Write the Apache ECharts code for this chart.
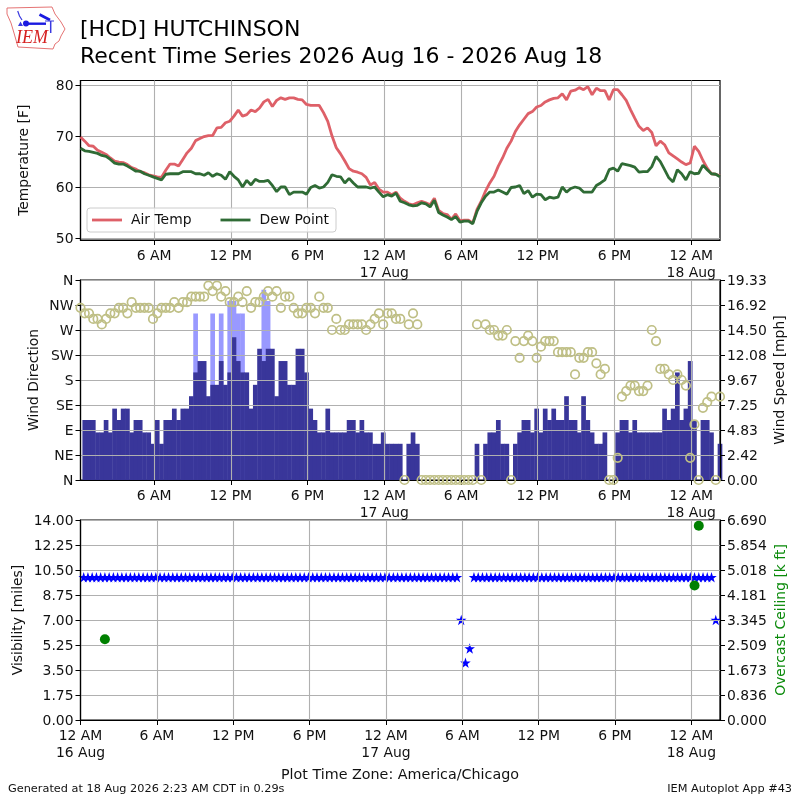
<!DOCTYPE html>
<html>
<head>
<meta charset="utf-8">
<style>html,body{margin:0;padding:0;background:#fff}#c{width:800px;height:800px}</style>
<script src="https://cdn.jsdelivr.net/npm/echarts@6/dist/echarts.min.js"></script>
</head>
<body>
<div id="c"></div>
<script>
// Time axis is in hours after midnight on 16 Aug; one observation every 20 minutes from 00:15
const startHour = 0.25;
const stepHours = 1 / 3;

const airTemp = [69.8,69,68.1,68,67.2,66.8,66.4,65.7,65.1,64.9,64.8,64.4,63.8,63.5,63,62.8,62.4,62.2,62,61.9,
63.3,64.5,64.5,64.1,65.4,66.7,67.6,69.1,69.5,69.9,70.1,70.1,71.6,71.7,72.6,72.9,73.9,75.1,73.9,74.2,
75.1,74.8,75.5,76.7,77.2,75.8,77,77.5,77.2,77.5,77.5,77.2,77.1,76.2,76,76,76,74.6,72.9,70,
67.7,66.5,65.1,63.6,63.1,62.9,62.6,61.9,60.4,60.9,59.6,59,59,58.5,59,57.8,57.2,56.7,56.5,56.9,
57.2,56.9,56.5,57.8,55.4,54.8,54.6,53.7,54.7,53.4,53.5,53.5,52.9,55.6,57.2,59.2,60.8,62.1,64.1,65.7,
67.6,69,70.9,72.2,73.3,74.4,74.8,75.7,76,76.7,77.1,77.4,77.5,78.3,77.1,78.8,79,79.5,79.1,79.7,
78.1,79.4,78.9,78.9,77.1,79.1,79.1,78.1,77,75.2,73.5,71.9,71.1,71.6,70.7,68.1,69,68.3,66.7,66.1,
65.5,64.9,64.4,64.7,68,67,65.2,63.7,62.6,62.5,62.2];

const dewPoint = [67.6,67.1,67,66.8,66.6,66.2,66,65.4,64.7,64.5,64.5,64.1,63.6,63.1,63.1,62.6,62.3,62,61.7,61.4,
62.5,62.6,62.6,62.6,63,63,63,62.6,62.6,62.3,62.8,62.1,62.6,62.3,61.5,63,62.1,61.4,60,61.3,
60.4,61.5,61.1,61.1,61.3,60.3,59.1,60,60,58.5,59,59,59,58.6,59.9,60.3,59.8,60,60.9,62.4,
62.1,62,60.8,61.7,60.8,60,60,60,59.8,60,59,58.1,58.5,58.2,58.8,57.2,56.9,56.5,56.3,56.4,
56.9,56.7,56.1,57.4,55,54.5,54.1,53.6,54.2,53.1,53.3,53.3,52.8,55.2,56.9,58.2,59,59,59.4,59,
58.6,59.9,60,60.3,58.7,59.3,58,58.6,58.5,57.5,58,57.8,58,60,59,59.7,60,59.8,59,59,
59,60.3,60.8,61.4,63.4,63.7,63.1,64.6,64.4,64.2,63.9,62.9,63,63,64,66,65,63.4,61.8,61,
63.4,62.6,61.4,63,62.6,62.7,64.3,63.4,62.6,62.5,62];

const windSpeed = [null,5.8,5.8,5.8,4.6,4.6,5.8,4.6,6.9,5.8,6.9,6.9,4.6,5.8,5.8,4.6,4.6,3.5,5.8,3.5,
5.8,5.8,6.9,5.8,6.9,6.9,8.1,10.4,11.5,11.5,8.1,9.2,9.2,11.5,9.2,10.4,13.8,11.5,10.4,10.4,
6.9,9.2,12.7,11.5,12.7,12.7,8.1,11.5,11.5,9.2,9.2,12.7,12.7,10.4,6.9,5.8,4.6,4.6,6.9,4.6,
4.6,4.6,4.6,5.8,5.8,4.6,5.8,4.6,4.6,3.5,3.5,4.6,3.5,3.5,3.5,3.5,0,3.5,4.6,3.5,
0,0,0,0,0,0,0,0,0,0,0,0,0,3.5,0,3.5,4.6,4.6,5.8,3.5,
3.5,0,3.5,4.6,5.8,5.8,4.6,6.9,4.6,6.9,5.8,6.9,5.8,5.8,8.1,5.8,5.8,4.6,8.1,5.8,
4.6,3.5,3.5,4.6,0,0,4.6,5.8,5.8,4.6,5.8,4.6,4.6,4.6,4.6,4.6,4.6,6.9,5.8,6.9,
10.4,5.8,6.9,11.5,5.8,0,5.8,5.8,4.6,0,3.5];

// Gusts are only reported at a few observations: [observation number, mph]
const gustObs = [27,31,33,35,36,37,38,43,44];
const gustMph = [16.1,16.1,16.1,17.3,17.3,16.1,16.1,18.4,17.3];

const windDir = [310,300,300,290,290,280,290,300,300,310,310,300,320,310,310,310,310,290,300,310,
310,310,320,310,320,320,330,330,330,330,350,340,350,330,340,320,320,330,320,340,
310,320,320,330,340,330,340,310,330,330,310,300,300,310,310,300,330,310,310,270,
290,270,270,280,280,280,280,270,280,290,300,280,300,300,290,290,0,280,300,280,
0,0,0,0,0,0,0,0,0,0,0,0,0,280,0,280,270,270,260,260,
270,0,250,220,250,260,250,220,240,250,250,250,230,230,230,230,190,220,220,230,
230,210,190,200,0,0,40,150,160,170,170,160,160,170,270,250,200,200,190,180,
190,180,170,40,100,0,130,140,150,0,150];

const visibility = [10,10,10,10,10,10,10,10,10,10,10,10,10,10,10,10,10,10,10,10,
10,10,10,10,10,10,10,10,10,10,10,10,10,10,10,10,10,10,10,10,
10,10,10,10,10,10,10,10,10,10,10,10,10,10,10,10,10,10,10,10,
10,10,10,10,10,10,10,10,10,10,10,10,10,10,10,10,10,10,10,10,
10,10,10,10,10,10,10,10,10,7,4,5,10,10,10,10,10,10,10,10,
10,10,10,10,10,10,10,10,10,10,10,10,10,10,10,10,10,10,10,10,
10,10,10,10,10,10,10,10,10,10,10,10,10,10,10,10,10,10,10,10,
10,10,10,10,10,10,10,10,10,7];

const ceilingObs = [5,144,145];
const ceilingKft = [2.7,4.5,6.5];

const tickHours = [0,6,12,18,24,30,36,42,48];
const tickLabels = ['12 AM\n16 Aug','6 AM','12 PM','6 PM','12 AM\n17 Aug','6 AM','12 PM','6 PM','12 AM\n18 Aug'];
const tempTicks = [50,60,70,80];
const compassTicks = [0,45,90,135,180,225,270,315,360];
const compassLabels = ['N','NE','E','SE','S','SW','W','NW','N'];

const FONT = 'DejaVu Sans';
const GRID = '#b0b0b0';
const obsTime = j => startHour + j * stepHours;
const withTimes = arr => arr.map((v, j) => [obsTime(j), v]);

const axisMax = 50.25;
const topMin = 0.25;
const bottomMin = 0;

function xAxis(gridIndex, min) {
  const vals = tickHours.filter(t => t >= min && t <= axisMax);
  return {
    type: 'value', gridIndex, min, max: axisMax, z: 3,
    axisLine: {show: true, onZero: false, lineStyle: {color: '#000', width: 1.2}},
    axisTick: {show: true, length: 5, customValues: vals, lineStyle: {color: '#000', width: 1}},
    axisLabel: {
      show: true, customValues: vals, margin: 8, color: '#111', fontFamily: FONT, fontSize: 13.9,
      lineHeight: 17, hideOverlap: false, showMinLabel: true, showMaxLabel: true,
      alignMinLabel: 'center', alignMaxLabel: 'center',
      formatter: v => tickLabels[tickHours.indexOf(v)] || ''
    },
    splitLine: {show: true, lineStyle: {color: GRID, width: 1.1}}
  };
}
function yAxis(gridIndex, position, cfg) {
  const left = position === 'left';
  return Object.assign({
    type: 'value', gridIndex, position, z: 3,
    nameLocation: 'middle', nameRotate: 90, nameMoveOverlap: false,
    nameTextStyle: {color: '#111', fontFamily: FONT, fontSize: 13.9},
    axisLine: {show: true, onZero: false, lineStyle: {color: '#000', width: 1.2}},
    axisTick: {show: true, length: 5, lineStyle: {color: '#000', width: 1}},
    axisLabel: {show: true, margin: 7, verticalAlign: 'top', lineHeight: 2.5, color: '#111', fontFamily: FONT, fontSize: 13.9, showMinLabel: true, showMaxLabel: true},
    splitLine: {show: left, lineStyle: {color: GRID, width: 1.1}}
  }, cfg);
}

const axes = {
  x: [xAxis(0, topMin), xAxis(1, topMin), xAxis(2, bottomMin)],
  y: [
    (() => { const a = yAxis(0, 'left', {min: 49.6, max: 80.9, name: 'Temperature [F]', nameGap: 49.5});
      a.axisLabel.customValues = tempTicks; a.axisTick.customValues = tempTicks; return a; })(),
    (() => { const a = yAxis(1, 'left', {min: 0, max: 360, interval: 45, name: 'Wind Direction', nameGap: 39.5});
      a.axisLabel.formatter = v => compassLabels[compassTicks.indexOf(v)]; return a; })(),
    (() => { const a = yAxis(1, 'right', {min: 0, max: 19.334, interval: 2.41675, name: 'Wind Speed [mph]', nameGap: 53});
      a.axisLabel.formatter = v => v.toFixed(2); return a; })(),
    (() => { const a = yAxis(2, 'left', {min: 0, max: 14, interval: 1.75, name: 'Visibility [miles]', nameGap: 55.5});
      a.axisLabel.formatter = v => v.toFixed(2); return a; })(),
    (() => { const a = yAxis(2, 'right', {min: 0, max: 6.69, interval: 0.83625, name: 'Overcast Ceiling [k ft]', nameGap: 54});
      a.nameTextStyle = Object.assign({}, a.nameTextStyle, {color: '#0a8a0a'});
      a.axisLabel.formatter = v => v.toFixed(3); return a; })()
  ]
};

const STAR = 'path://M50 0 L61.8 35.5 L99 35.5 L69 57.5 L80.5 93 L50 71 L19.5 93 L31 57.5 L1 35.5 L38.2 35.5 Z';

const option = {
  animation: false,
  backgroundColor: '#fff',
  textStyle: {fontFamily: FONT},
  title: [
    {text: '[HCD] HUTCHINSON\nRecent Time Series 2026 Aug 16 - 2026 Aug 18', left: 80, top: 17, padding: 0,
      textStyle: {fontFamily: FONT, fontSize: 22, fontWeight: 'normal', color: '#000', lineHeight: 27}},
    {text: 'Plot Time Zone: America/Chicago', left: 400, textAlign: 'center', top: 768, padding: 0,
      textStyle: {fontFamily: FONT, fontSize: 14.3, fontWeight: 'normal', color: '#111'}},
    {text: 'Generated at 18 Aug 2026 2:23 AM CDT in 0.29s', left: 8, top: 784, padding: 0,
      textStyle: {fontFamily: FONT, fontSize: 11.3, fontWeight: 'normal', color: '#111'}},
    {text: 'IEM Autoplot App #43', right: 8, top: 784, padding: 0,
      textStyle: {fontFamily: FONT, fontSize: 11.3, fontWeight: 'normal', color: '#111'}}
  ],
  legend: {
    data: ['Air Temp', 'Dew Point'], left: 87, top: 208, padding: [5, 7, 5, 5], icon: 'rect',
    itemWidth: 30, itemHeight: 2.8, itemGap: 29,
    backgroundColor: 'rgba(255,255,255,0.8)', borderColor: '#ccc', borderWidth: 1, borderRadius: 3,
    textStyle: {fontFamily: FONT, fontSize: 13.9, color: '#111', padding: [0, 0, 0, 4]}
  },
  grid: [
    {left: 80.5, right: 80, top: 80.5, height: 159.5, show: true, borderColor: '#000', borderWidth: 1.2, backgroundColor: 'transparent'},
    {left: 80.5, right: 80, top: 280, height: 200, show: true, borderColor: '#000', borderWidth: 1.2, backgroundColor: 'transparent'},
    {left: 80.5, right: 80, top: 520, height: 200, show: true, borderColor: '#000', borderWidth: 1.2, backgroundColor: 'transparent'}
  ],
  xAxis: axes.x,
  yAxis: axes.y,
  series: [
    {name: 'Air Temp', type: 'line', xAxisIndex: 0, yAxisIndex: 0, symbol: 'none', z: 4,
      data: withTimes(airTemp), lineStyle: {color: '#de6068', width: 2.8}, itemStyle: {color: '#de6068'}},
    {name: 'Dew Point', type: 'line', xAxisIndex: 0, yAxisIndex: 0, symbol: 'none', z: 4,
      data: withTimes(dewPoint), lineStyle: {color: '#2f6b35', width: 2.8}, itemStyle: {color: '#2f6b35'}},
    {name: 'Wind Gust', type: 'bar', xAxisIndex: 1, yAxisIndex: 2, barWidth: 4.7, barGap: '-100%', z: 1,
      data: gustObs.map((j, i) => [obsTime(j), gustMph[i]]), itemStyle: {color: '#9999ff'}},
    {name: 'Wind Speed', type: 'bar', xAxisIndex: 1, yAxisIndex: 2, barWidth: 4.7, barGap: '-100%', z: 2,
      data: withTimes(windSpeed), itemStyle: {color: '#39369a'}},
    {name: 'Wind Direction', type: 'scatter', xAxisIndex: 1, yAxisIndex: 1, z: 5, symbol: 'circle', symbolSize: 8.5,
      data: withTimes(windDir), itemStyle: {color: 'rgba(0,0,0,0)', borderColor: '#bfbf85', borderWidth: 1.7, opacity: 1}},
    {name: 'Visibility', type: 'scatter', xAxisIndex: 2, yAxisIndex: 3, z: 2, symbol: STAR, symbolSize: 10.5,
      data: withTimes(visibility), itemStyle: {color: '#0000ff', opacity: 1}},
    {name: 'Overcast Ceiling', type: 'scatter', xAxisIndex: 2, yAxisIndex: 4, z: 5, symbol: 'circle', symbolSize: 10,
      data: ceilingObs.map((j, i) => [obsTime(j), ceilingKft[i]]), itemStyle: {color: '#008000', opacity: 1}}
  ],
  graphic: {elements: [
    {type: 'polygon', shape: {points: [[7,8],[52,7],[55,14],[61,22],[65,29],[61,36],[59,41],[55,44],[53,49],[18,47],[16,40],[14,33],[11,23],[7,14]]},
      style: {fill: '#fff', stroke: '#e57373', lineWidth: 1}},
    {type: 'polyline', shape: {points: [[25,23.7],[46,23.7]]}, style: {stroke: '#1a1ae0', lineWidth: 2.4, fill: 'none'}},
    {type: 'circle', shape: {cx: 26, cy: 23.5, r: 3}, style: {fill: '#1a1ae0'}},
    {type: 'polyline', shape: {points: [[17.7,11],[19.5,16],[22,20]]}, style: {stroke: '#3a3ae0', lineWidth: 1.2, fill: 'none'}},
    {type: 'polyline', shape: {points: [[39.5,14.5],[50,20]]}, style: {stroke: '#1a1ae0', lineWidth: 2.8, fill: 'none'}},
    {type: 'polyline', shape: {points: [[45,21],[54,21]]}, style: {stroke: '#3a3ae0', lineWidth: 1, fill: 'none'}},
    {type: 'polyline', shape: {points: [[50.7,21],[50.7,33]]}, style: {stroke: '#3a3ae0', lineWidth: 1.5, fill: 'none'}},
    {type: 'polygon', shape: {points: [[20.5,21.5],[23,26],[18,26]]}, style: {fill: '#3a3ae0'}},
    {type: 'text', style: {text: 'IEM', x: 16, y: 29, fill: '#d62020', fontFamily: 'Liberation Serif', fontStyle: 'italic', fontSize: 18}}
  ]}
};

const chart = echarts.init(document.getElementById('c'), null, {renderer: 'canvas', width: 800, height: 800});
chart.setOption(option);
</script>
</body>
</html>
